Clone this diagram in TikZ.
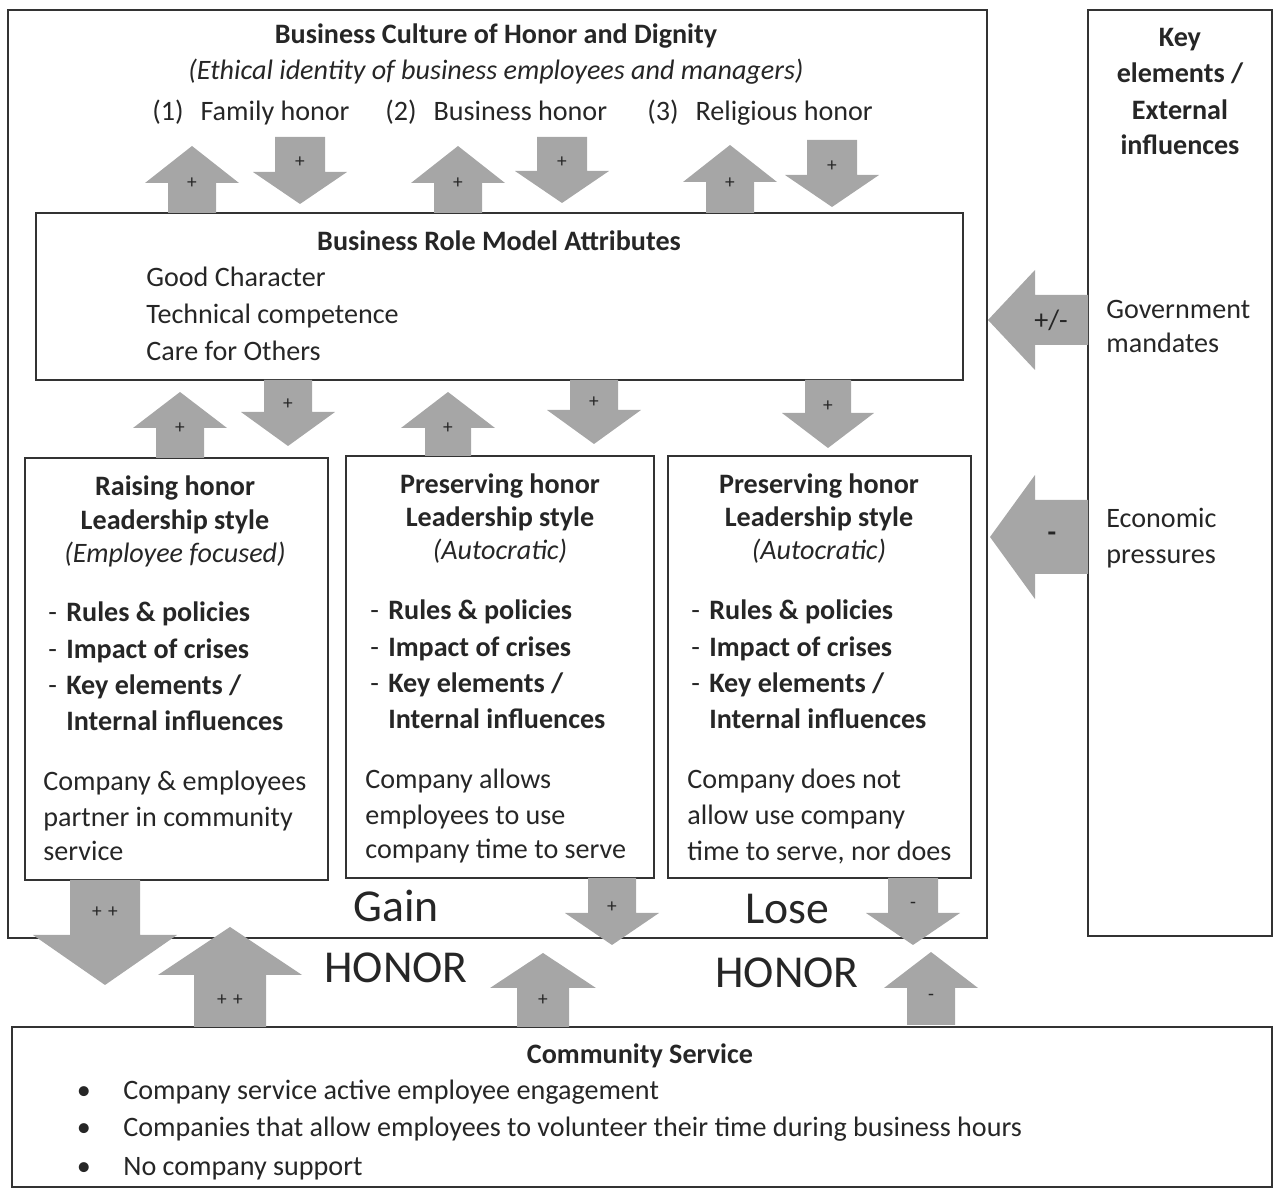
\documentclass[tikz,border=0pt]{standalone}
\usepackage{fontspec}
\setmainfont{Carlito}
\usetikzlibrary{positioning}
\tikzset{
  box/.style={draw=black!80,line width=0.9pt},
  blk/.style={fill=black!35},
  txt/.style={inner sep=0pt,yshift=-0.6mm,text=black!85,font=\fontsize{16}{19}\selectfont},
  btxt/.style={txt,font=\fontsize{16}{19}\selectfont\bfseries},
  itxt/.style={txt,font=\fontsize{16}{19}\selectfont\itshape},
  big/.style={inner sep=0pt,yshift=-0.4mm,text=black!85,font=\fontsize{26}{30}\selectfont},
  sign/.style={inner sep=0pt,text=black!85,font=\fontsize{11}{12}\selectfont},
}
\newcommand{\UpBlk}[9]% name, x, tip, tail, head half, shaft half, head length, label y, sign
{\fill[blk] (#2-#6,#4) -- (#2-#6,#3+#7) -- (#2-#5,#3+#7) -- (#2,#3)
    -- (#2+#5,#3+#7) -- (#2+#6,#3+#7) -- (#2+#6,#4) -- cycle;
  \node[sign] (#1) at (#2,#8) {#9};
}
\newcommand{\DownBlk}[9]% name, x, tip, top, head half, shaft half, head length, label y, sign
{\fill[blk] (#2-#6,#4) -- (#2-#6,#3-#7) -- (#2-#5,#3-#7) -- (#2,#3)
    -- (#2+#5,#3-#7) -- (#2+#6,#3-#7) -- (#2+#6,#4) -- cycle;
  \node[sign] (#1) at (#2,#8) {#9};
}
\newcommand{\LeftBlk}[9]% name, y, tip, tail, head half, shaft half, head length, label x, sign
{\fill[blk] (#4,#2-#6) -- (#3+#7,#2-#6) -- (#3+#7,#2-#5) -- (#3,#2)
    -- (#3+#7,#2+#5) -- (#3+#7,#2+#6) -- (#4,#2+#6) -- cycle;
  \node[sign] (#1) at (#8,#2) {#9};
}
\newcommand{\Rules}[3]% name, dash x, first baseline
{\node[txt,anchor=base west] (#1d1) at (#2,#3) {-};
  \node[btxt,anchor=base west] (#1r1) at (#2+18,#3) {Rules \& policies};
  \node[txt,anchor=base west] (#1d2) at (#2,#3+36.5) {-};
  \node[btxt,anchor=base west] (#1r2) at (#2+18,#3+36.5) {Impact of crises};
  \node[txt,anchor=base west] (#1d3) at (#2,#3+73) {-};
  \node[btxt,anchor=base west] (#1r3) at (#2+18,#3+73) {Key elements /};
  \node[btxt,anchor=base west] (#1r4) at (#2+18,#3+109) {Internal influences};
}

\begin{document}
\begin{tikzpicture}[x=0.2mm,y=-0.2mm]
  \useasboundingbox (0,0) rectangle (1274,1190);
  % frames
  \draw[box] (8,10) rectangle (987,938);
  \draw[box] (1088,10) rectangle (1272,936);
  \draw[box] (36,213) rectangle (963,380);
  \draw[box] (25,458) rectangle (328,880);
  \draw[box] (346,456) rectangle (654,878);
  \draw[box] (668,456) rectangle (971,878);
  \draw[box] (12,1027) rectangle (1272,1187);

  % culture of honor
  \node[btxt,anchor=base] (culture) at (496,41) {Business Culture of Honor and Dignity};
  \node[itxt,anchor=base] (ethic) at (496,77) {(Ethical identity of business employees and managers)};
  \node[txt,anchor=base west] (family) at (152,118) {(1)\hspace{0.6em}Family honor};
  \node[txt,anchor=base west] (business) at (385,118) {(2)\hspace{0.6em}Business honor};
  \node[txt,anchor=base west] (religious) at (647,118) {(3)\hspace{0.6em}Religious honor};

  % role model
  \node[btxt,anchor=base] (model) at (499,248) {Business Role Model Attributes};
  \node[txt,anchor=base west] (model1) at (146,284) {Good Character};
  \node[txt,anchor=base west] (model2) at (146,321) {Technical competence};
  \node[txt,anchor=base west] (model3) at (146,358) {Care for Others};

  % leadership styles
  \node[btxt,anchor=base] (raiseA) at (175,493) {Raising honor};
  \node[btxt,anchor=base] (raiseB) at (175,527) {Leadership style};
  \node[itxt,anchor=base] (raiseC) at (175,560) {(Employee focused)};
  \Rules{raise}{48}{619}
  \node[txt,anchor=base west] (raiseP1) at (43,788) {Company \& employees};
  \node[txt,anchor=base west] (raiseP2) at (43,824) {partner in community};
  \node[txt,anchor=base west] (raiseP3) at (43,858) {service};

  \node[btxt,anchor=base] (keepA) at (500,491) {Preserving honor};
  \node[btxt,anchor=base] (keepB) at (500,524) {Leadership style};
  \node[itxt,anchor=base] (keepC) at (500,557) {(Autocratic)};
  \Rules{keep}{370}{617}
  \node[txt,anchor=base west] (keepP1) at (365,786) {Company allows};
  \node[txt,anchor=base west] (keepP2) at (365,822) {employees to use};
  \node[txt,anchor=base west] (keepP3) at (365,856) {company time to serve};

  \node[btxt,anchor=base] (loseA) at (819,491) {Preserving honor};
  \node[btxt,anchor=base] (loseB) at (819,524) {Leadership style};
  \node[itxt,anchor=base] (loseC) at (819,557) {(Autocratic)};
  \Rules{lose}{691}{617}
  \node[txt,anchor=base west] (loseP1) at (687,786) {Company does not};
  \node[txt,anchor=base west] (loseP2) at (687,822) {allow use company};
  \node[txt,anchor=base west] (loseP3) at (687,858) {time to serve, nor does};

  % key elements
  \node[btxt,anchor=base] (key1) at (1180,44) {Key};
  \node[btxt,anchor=base] (key2) at (1180,80) {elements /};
  \node[btxt,anchor=base] (key3) at (1180,117) {External};
  \node[btxt,anchor=base] (key4) at (1180,152) {influences};
  \node[txt,anchor=base west] (gov1) at (1106,316) {Government};
  \node[txt,anchor=base west] (gov2) at (1106,350) {mandates};
  \node[txt,anchor=base west] (eco1) at (1106,525) {Economic};
  \node[txt,anchor=base west] (eco2) at (1106,561) {pressures};

  % gain / lose
  \node[big,anchor=base] (gain) at (396,920) {Gain};
  \node[big,anchor=base] (honorA) at (396,981) {HONOR};
  \node[big,anchor=base] (lose) at (787,922) {Lose};
  \node[big,anchor=base] (honorB) at (787,986) {HONOR};

  % community service
  \node[btxt,anchor=base] (service) at (640,1061) {Community Service};
  \node[txt,anchor=base] (dot1) at (84,1097) {\textbullet};
  \node[txt,anchor=base west] (serv1) at (123,1097) {Company service active employee engagement};
  \node[txt,anchor=base] (dot2) at (84,1134) {\textbullet};
  \node[txt,anchor=base west] (serv2) at (123,1134) {Companies that allow employees to volunteer their time during business hours};
  \node[txt,anchor=base] (dot3) at (84,1172) {\textbullet};
  \node[txt,anchor=base west] (serv3) at (123,1172) {No company support};

  % block arrows
  \UpBlk{u1}{192}{146}{213}{47}{24}{37}{183}{+}
  \DownBlk{d1}{300}{204}{137}{47}{25}{32}{162}{+}
  \UpBlk{u2}{458}{146}{213}{47}{24}{37}{183}{+}
  \DownBlk{d2}{562}{203}{137}{47}{25}{32}{162}{+}
  \UpBlk{u3}{730}{145}{213}{47}{24}{37}{183}{+}
  \DownBlk{d3}{832}{207}{140}{47}{25}{32}{166}{+}
  \UpBlk{u4}{180}{392}{458}{47}{24}{36}{428}{+}
  \DownBlk{d4}{288}{446}{380}{47}{24}{34}{404}{+}
  \UpBlk{u5}{448}{392}{456}{47}{23}{36}{428}{+}
  \DownBlk{d5}{594}{444}{380}{47}{24}{34}{402}{+}
  \DownBlk{d6}{828}{448}{380}{46}{23}{35}{406}{+}
  \LeftBlk{gov}{320}{988}{1088}{50}{25}{47}{1051}{\fontsize{16}{19}\selectfont+/-}
  \LeftBlk{eco}{537}{990}{1088}{62}{37}{45}{1052}{\fontsize{16}{19}\selectfont\bfseries-}
  \DownBlk{d7}{105}{985}{880}{72}{35}{50}{912}{+\,\,+}
  \UpBlk{u6}{230}{927}{1027}{72}{36}{48}{1000}{+\,\,+}
  \DownBlk{d8}{612}{945}{878}{47}{24}{32}{907}{+}
  \UpBlk{u7}{543}{953}{1027}{53}{26}{35}{1000}{+}
  \DownBlk{d9}{913}{945}{878}{47}{25}{32}{905}{-}
  \UpBlk{u8}{931}{952}{1025}{47}{24}{36}{997}{-}
\end{tikzpicture}
\end{document}
